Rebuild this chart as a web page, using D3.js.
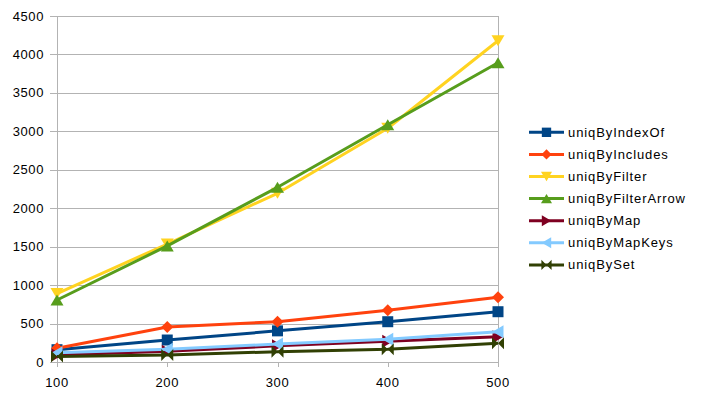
<!DOCTYPE html>
<html>
<head>
<meta charset="utf-8">
<script src="https://cdn.jsdelivr.net/npm/d3@7"></script>
<style>
  body { margin: 0; background: #fff; }
  text { font-family: "Liberation Sans", Arial, sans-serif; fill: #000; }
</style>
</head>
<body>
<div id="chart"></div>
<script>
// Data
const sizes = [100, 200, 300, 400, 500];
const seriesNames = ["uniqByIndexOf", "uniqByIncludes", "uniqByFilter", "uniqByFilterArrow", "uniqByMap", "uniqByMapKeys", "uniqBySet"];
const uniqByIndexOf = [160, 286, 405, 524, 654];
const uniqByIncludes = [178, 455, 524, 674, 841];
const uniqByFilter = [890, 1534, 2194, 3040, 4178];
const uniqByFilterArrow = [806, 1510, 2272, 3085, 3892];
const uniqByMap = [90, 140, 210, 270, 330];
const uniqByMapKeys = [120, 165, 234, 295, 394];
const uniqBySet = [70, 91, 134, 165, 243];
const yTicks = [0, 500, 1000, 1500, 2000, 2500, 3000, 3500, 4000, 4500];

const seriesValues = [uniqByIndexOf, uniqByIncludes, uniqByFilter, uniqByFilterArrow, uniqByMap, uniqByMapKeys, uniqBySet];
const colors = ["#004586", "#ff420e", "#ffd320", "#579d1c", "#7e0021", "#83caff", "#314004"];

// marker shapes, centered on 0,0
const markers = [
  "M-5.5,-5.5H5.5V5.5H-5.5Z",
  "M0,-6L6,0L0,6L-6,0Z",
  "M-6.5,-5.5H6.5L0,5.5Z",
  "M0,-5.5L6.5,5.5H-6.5Z",
  "M-5.5,-6.5V6.5L5.5,0Z",
  "M5.5,-6.5V6.5L-5.5,0Z",
  "M-6,-6L0,0L-6,6Z M6,-6L0,0L6,6Z"
];

const w = 701, h = 399;
const svg = d3.select("#chart").append("svg")
  .attr("width", w)
  .attr("height", h);

const x = d3.scaleLinear().domain([100, 500]).range([57, 498]);
const y = d3.scaleLinear().domain([0, 4500]).range([362, 16]);

// horizontal grid + y ticks
svg.append("g")
  .selectAll("line")
  .data(yTicks)
  .enter()
  .append("line")
  .attr("x1", 50)
  .attr("x2", x(500))
  .attr("y1", d => Math.round(y(d)) + 0.5)
  .attr("y2", d => Math.round(y(d)) + 0.5)
  .attr("stroke", "#b3b3b3")
  .attr("stroke-width", 1);

svg.append("g")
  .selectAll("text")
  .data(yTicks)
  .enter()
  .append("text")
  .attr("x", 44)
  .attr("y", d => y(d) + 4.5)
  .attr("text-anchor", "end")
  .attr("font-size", 13)
  .attr("letter-spacing", 0.6)
  .text(d => d);

// vertical lines: left axis, right border, x ticks
svg.append("g")
  .selectAll("line")
  .data(sizes)
  .enter()
  .append("line")
  .attr("x1", d => Math.round(x(d)) + 0.5)
  .attr("x2", d => Math.round(x(d)) + 0.5)
  .attr("y1", d => (d === 100 || d === 500) ? y(4500) : y(0))
  .attr("y2", y(0) + 5)
  .attr("stroke", "#b3b3b3")
  .attr("stroke-width", 1);

svg.append("g")
  .selectAll("text")
  .data(sizes)
  .enter()
  .append("text")
  .attr("x", d => x(d))
  .attr("y", 387)
  .attr("text-anchor", "middle")
  .attr("font-size", 13)
  .attr("letter-spacing", 0.6)
  .text(d => d);

// lines and markers
const line = d3.line()
  .x((d, i) => x(sizes[i]))
  .y(d => y(d));

seriesValues.forEach((vals, s) => {
  const g = svg.append("g");
  g.append("path")
    .attr("d", line(vals))
    .attr("fill", "none")
    .attr("stroke", colors[s])
    .attr("stroke-width", 3)
    .attr("stroke-linejoin", "round");
  g.selectAll("path.m")
    .data(vals)
    .enter()
    .append("path")
    .attr("class", "m")
    .attr("d", markers[s])
    .attr("transform", (d, i) => `translate(${x(sizes[i])},${y(d)})`)
    .attr("fill", colors[s]);
});

// legend
const legend = svg.append("g")
  .selectAll("g")
  .data(seriesNames)
  .enter()
  .append("g")
  .attr("transform", (d, i) => `translate(529,${132.3 + i * 22.1})`);

legend.append("line")
  .attr("x1", 0)
  .attr("x2", 35)
  .attr("stroke", (d, i) => colors[i])
  .attr("stroke-width", 3);

legend.append("path")
  .attr("d", (d, i) => markers[i])
  .attr("transform", "translate(17.5,0) scale(0.85)")
  .attr("fill", (d, i) => colors[i]);

legend.append("text")
  .attr("x", 39)
  .attr("y", 4.5)
  .attr("font-size", 13)
  .attr("letter-spacing", 0.9)
  .text(d => d);
</script>
</body>
</html>
